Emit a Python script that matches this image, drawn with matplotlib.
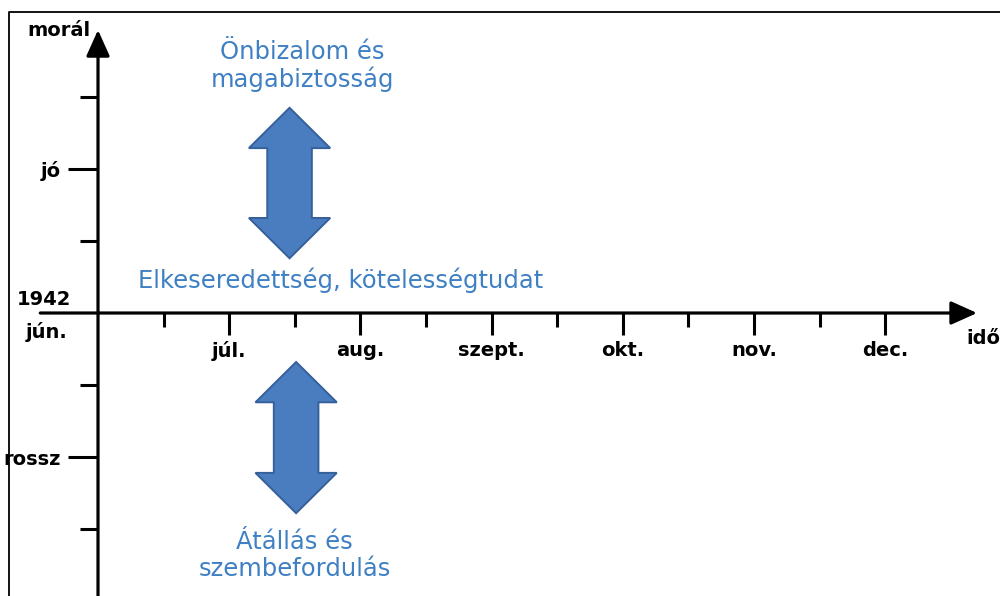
import numpy as np
import matplotlib
matplotlib.use('Agg')
import matplotlib.pyplot as plt
from matplotlib.patches import Polygon

# months after 1942 jun. (jun. = 0)
months = [1, 2, 3, 4, 5, 6]
month_labels = ['júl.', 'aug.', 'szept.', 'okt.', 'nov.', 'dec.']
half_months = [0.5, 1.5, 2.5, 3.5, 4.5, 5.5]

# morale scale
morale_levels = [2, -2]
morale_labels = ['jó', 'rossz']
morale_minor = [3, 1, -1, -3]

# blue annotations: (text, x, y)
notes = [('Önbizalom és\nmagabiztosság', 1.56, 3.43),
         ('Elkeseredettség, kötelességtudat', 1.85, 0.46),
         ('Átállás és\nszembefordulás', 1.50, -3.37)]
# double arrows: (x centre, y top, y bottom)
arrows = [(1.46, 2.85, 0.76),
          (1.51, -0.68, -2.78)]

blue_txt = '#3f80c4'
blue_fill = '#4a7dbf'
blue_edge = '#36609a'


def double_arrow(cx, ytop, ybot, shaft=0.34, head=0.62, head_len=0.56):
    s, h = shaft / 2, head / 2
    pts = [(cx, ytop), (cx + h, ytop - head_len), (cx + s, ytop - head_len),
           (cx + s, ybot + head_len), (cx + h, ybot + head_len), (cx, ybot),
           (cx - h, ybot + head_len), (cx - s, ybot + head_len),
           (cx - s, ytop - head_len), (cx - h, ytop - head_len)]
    return Polygon(pts, closed=True, facecolor=blue_fill, edgecolor=blue_edge, lw=1.4)


fig = plt.figure(figsize=(10, 5.96), dpi=100)
ax = fig.add_axes([0, 0, 1, 1])
ax.set_xlim(-0.747, 6.875)
ax.set_ylim(-3.93, 4.347)

for sp in ax.spines.values():
    sp.set_visible(False)
ax.spines['left'].set_position(('data', 0))
ax.spines['bottom'].set_position(('data', 0))

ax.set_xticks(months)
ax.set_xticklabels(month_labels, fontsize=14, fontweight='bold')
ax.set_xticks(half_months, minor=True)
ax.set_yticks(morale_levels)
ax.set_yticklabels(morale_labels, fontsize=14, fontweight='bold')
ax.set_yticks(morale_minor, minor=True)
ax.tick_params(axis='x', which='major', direction='out', length=15.8, width=2.2, pad=4)
ax.tick_params(axis='x', which='minor', direction='out', length=10, width=2.2)
ax.tick_params(axis='y', which='major', direction='out', length=21.5, width=2.2, pad=5)
ax.tick_params(axis='y', which='minor', direction='out', length=13, width=2.2)

# outer frame
ax.plot([-0.678, -0.678, 8], [-5, 4.18, 4.18], color='black', lw=1.3, clip_on=True)

# axes with arrow heads
arrow_kw = dict(arrowstyle='-|>,head_length=1.0,head_width=0.45', color='black',
                lw=2.3, mutation_scale=16, shrinkA=0, shrinkB=0)
ax.annotate('', xy=(6.70, 0), xytext=(-0.44, 0), arrowprops=arrow_kw)
ax.annotate('', xy=(0, 3.93), xytext=(0, -4.5), arrowprops=arrow_kw)

ax.text(-0.06, 3.93, 'morál', ha='right', va='center', fontsize=14, fontweight='bold')
ax.text(6.62, -0.36, 'idő', ha='left', va='center', fontsize=14, fontweight='bold')
ax.text(-0.41, 0.19, '1942', ha='center', va='center', fontsize=14, fontweight='bold')
ax.text(-0.39, -0.26, 'jún.', ha='center', va='center', fontsize=14, fontweight='bold')

for x, ytop, ybot in arrows:
    ax.add_patch(double_arrow(x, ytop, ybot))

for txt, x, y in notes:
    ax.text(x, y, txt, ha='center', va='center', fontsize=17.5, color=blue_txt,
            linespacing=1.15)

plt.savefig('out.png', dpi=100)
